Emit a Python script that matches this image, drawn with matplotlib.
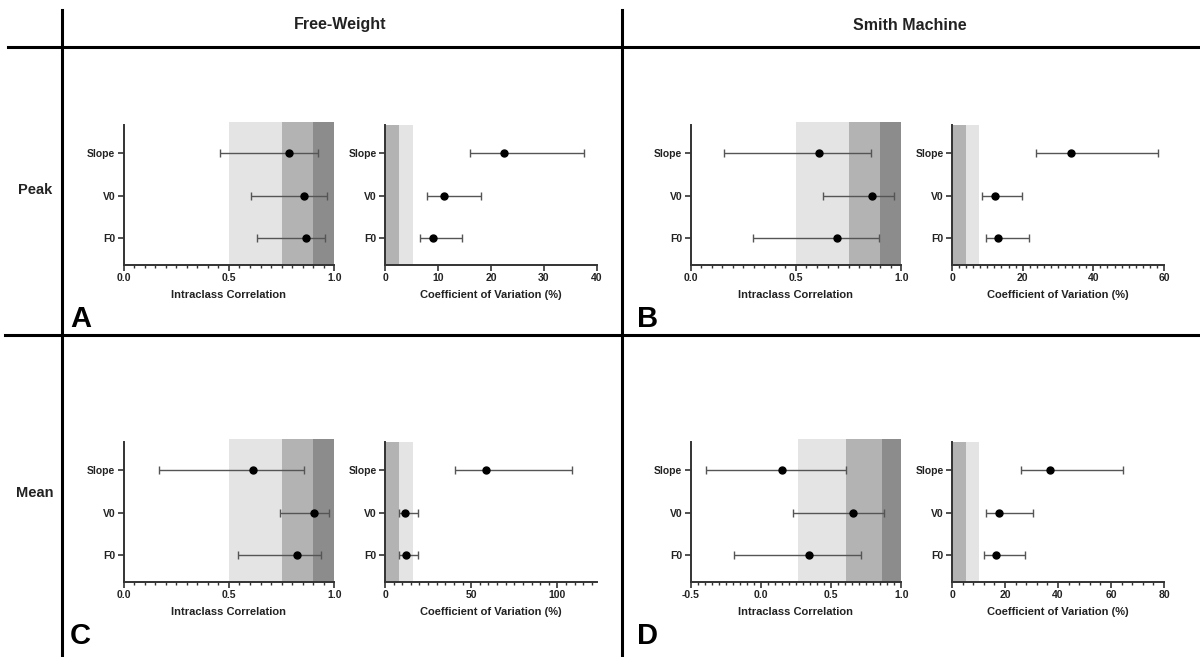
import numpy as np
import matplotlib
matplotlib.use("Agg")
import matplotlib.pyplot as plt
from matplotlib.lines import Line2D
from matplotlib.ticker import MultipleLocator, FormatStrFormatter

plt.rcParams['font.family'] = ['Liberation Sans', 'DejaVu Sans']
plt.rcParams['font.weight'] = 'bold'

W, H = 1200, 657

cats = ["F0", "V0", "Slope"]
panels = ["A", "B", "C", "D"]

# ICC: point, lower, upper  (order F0, V0, Slope)
icc_pt = {"A": [0.864, 0.854, 0.783], "B": [0.693, 0.863, 0.611],
          "C": [0.822, 0.905, 0.614], "D": [0.342, 0.653, 0.150]}
icc_lo = {"A": [0.631, 0.605, 0.458], "B": [0.295, 0.628, 0.158],
          "C": [0.541, 0.741, 0.169], "D": [-0.189, 0.226, -0.387]}
icc_hi = {"A": [0.956, 0.966, 0.922], "B": [0.895, 0.965, 0.856],
          "C": [0.936, 0.973, 0.856], "D": [0.716, 0.874, 0.605]}

# CV (%)
cv_pt = {"A": [9.1, 11.1, 22.5], "B": [13.1, 12.1, 33.7],
         "C": [12.0, 11.8, 58.8], "D": [16.5, 17.9, 37.1]}
cv_lo = {"A": [6.6, 8.0, 16.0], "B": [9.5, 8.5, 23.7],
         "C": [8.2, 8.2, 40.6], "D": [12.0, 13.0, 26.1]}
cv_hi = {"A": [14.6, 18.1, 37.6], "B": [21.8, 19.9, 58.3],
         "C": [19.4, 19.0, 108.7], "D": [27.7, 30.5, 64.6]}

# shaded bands
icc_bands = {"A": [0.5, 0.75, 0.9, 1.0], "B": [0.5, 0.75, 0.9, 1.0],
             "C": [0.5, 0.75, 0.9, 1.0], "D": [0.263, 0.605, 0.863, 1.0]}
cv_bands = {"A": [0, 2.6, 5.3], "B": [0, 4.0, 7.7],
            "C": [0, 8.3, 16.1], "D": [0, 5.3, 10.2]}

icc_xlim = {"A": (0, 1), "B": (0, 1), "C": (0, 1), "D": (-0.5, 1)}
cv_xlim = {"A": (0, 40), "B": (0, 60), "C": (0, 123), "D": (0, 80)}
cv_major = {"A": 10, "B": 20, "C": 50, "D": 20}
cv_minor = {"A": None, "B": 2, "C": 5, "D": 4}

col_titles = ["Free-Weight", "Smith Machine"]
row_titles = ["Peak", "Mean"]

light, mid, dark = "#e4e4e4", "#b3b3b3", "#8c8c8c"
txt = "#222222"


def box(x0, x1, y0, y1):
    return [x0 / W, 1 - y1 / H, (x1 - x0) / W, (y1 - y0) / H]


def style(ax, ylim):
    for s in ["top", "right"]:
        ax.spines[s].set_visible(False)
    for s in ["left", "bottom"]:
        ax.spines[s].set_linewidth(1.4)
        ax.spines[s].set_color("#333333")
    ax.set_ylim(*ylim)
    ax.set_yticks(range(len(cats)))
    ax.set_yticklabels(cats)
    ax.tick_params(axis="both", which="major", length=4, width=1.2,
                   labelsize=7.5, colors="#333333", labelcolor=txt, pad=2)
    ax.tick_params(axis="x", which="minor", length=2.5, width=1.0, colors="#333333")
    for lab in ax.get_xticklabels() + ax.get_yticklabels():
        lab.set_fontweight("bold")


def errs(ax, pt, lo, hi):
    y = np.arange(len(cats))
    pt, lo, hi = np.array(pt), np.array(lo), np.array(hi)
    ax.errorbar(pt, y, xerr=[pt - lo, hi - pt], fmt="o", color="black",
                ecolor="#555555", elinewidth=1.0, capsize=3, capthick=1.0,
                markersize=5, zorder=5)


fig = plt.figure(figsize=(W / 100, H / 100), dpi=100)

ylim = (-0.635, 2.66)
col_x = {"A": 0, "B": 1, "C": 0, "D": 1}
row_y = {"A": 0, "B": 0, "C": 1, "D": 1}
xoff = [0, 567]
yoff = [0, 317]

for p in panels:
    dx = xoff[col_x[p]]
    dy = yoff[row_y[p]]

    ax1 = fig.add_axes(box(123.6 + dx, 334.3 + dx, 125 + dy, 265 + dy))
    b = icc_bands[p]
    for (a0, a1), c in zip(zip(b[:-1], b[1:]), [light, mid, dark]):
        ax1.axvspan(a0, a1, ymin=0, ymax=1.025, color=c, lw=0, zorder=0, clip_on=False)
    errs(ax1, icc_pt[p], icc_lo[p], icc_hi[p])
    ax1.set_xlim(*icc_xlim[p])
    ax1.xaxis.set_major_locator(MultipleLocator(0.5))
    ax1.xaxis.set_minor_locator(MultipleLocator(0.05))
    ax1.xaxis.set_major_formatter(FormatStrFormatter("%.1f"))
    style(ax1, ylim)
    ax1.set_xlabel("Intraclass Correlation", fontsize=8, fontweight="bold",
                   color=txt, labelpad=5)

    ax2 = fig.add_axes(box(385 + dx, 597 + dx, 125 + dy, 265 + dy))
    b = cv_bands[p]
    ax2.axvspan(b[0], b[1], color=mid, lw=0, zorder=0)
    ax2.axvspan(b[1], b[2], color=light, lw=0, zorder=0)
    errs(ax2, cv_pt[p], cv_lo[p], cv_hi[p])
    ax2.set_xlim(*cv_xlim[p])
    ax2.xaxis.set_major_locator(MultipleLocator(cv_major[p]))
    if cv_minor[p]:
        ax2.xaxis.set_minor_locator(MultipleLocator(cv_minor[p]))
    style(ax2, ylim)
    ax2.set_xlabel("Coefficient of Variation (%)", fontsize=8, fontweight="bold",
                   color=txt, labelpad=5)

    # panel letter
    fig.text((70 + dx) / W, 1 - (327 + dy) / H, p, fontsize=21,
             fontweight="bold", color="black", ha="left", va="baseline")

# grid lines of the figure
lines = [((62, 62), (10, H)), ((622, 622), (10, H)),
         ((8, W), (47, 47)), ((5, W), (335, 335))]
for xs, ys in lines:
    fig.add_artist(Line2D([x / W for x in xs], [1 - y / H for y in ys],
                          transform=fig.transFigure, color="black", lw=2.2))

for t, xc in zip(col_titles, [340, 910]):
    fig.text(xc / W, 1 - 25 / H, t, fontsize=11.5, fontweight="bold",
             color=txt, ha="center", va="center")
for t, yc in zip(row_titles, [190, 493]):
    fig.text(35 / W, 1 - yc / H, t, fontsize=10.5, fontweight="bold",
             color=txt, ha="center", va="center")

fig.savefig("out.png", dpi=100)
